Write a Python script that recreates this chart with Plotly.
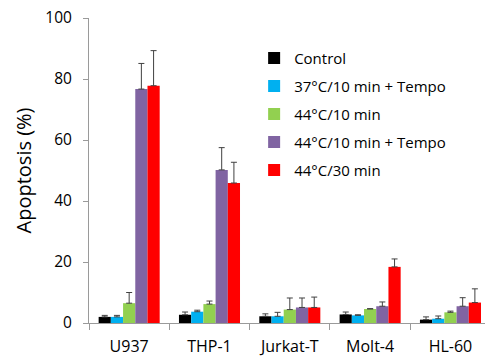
import plotly.graph_objects as go

categories = ["U937", "THP-1", "Jurkat-T", "Molt-4", "HL-60"]
series_names = ["Control", "37°C/10 min + Tempo", "44°C/10 min",
                "44°C/10 min + Tempo", "44°C/30 min"]
colors = ["#000000", "#00B0F0", "#92D050", "#8064A2", "#FF0000"]

control = [2.0, 2.7, 2.2, 2.8, 1.1]
control_err = [0.5, 0.9, 0.8, 0.8, 0.9]
tempo37 = [2.0, 3.7, 2.2, 2.5, 1.4]
tempo37_err = [0.5, 0.5, 1.3, 0.2, 0.9]
heat44_10 = [6.5, 6.2, 4.4, 4.6, 3.5]
heat44_10_err = [3.5, 1.0, 3.8, 0.1, 0.4]
heat44_10_tempo = [76.7, 50.2, 5.1, 5.5, 5.5]
heat44_10_tempo_err = [8.4, 7.3, 3.1, 1.4, 2.8]
heat44_30 = [77.8, 45.9, 5.1, 18.4, 6.7]
heat44_30_err = [11.5, 6.8, 3.4, 2.6, 4.5]

values = [control, tempo37, heat44_10, heat44_10_tempo, heat44_30]
errors = [control_err, tempo37_err, heat44_10_err, heat44_10_tempo_err, heat44_30_err]

font_family = "Open Sans"

fig = go.Figure()
for i, (name, col, vals, errs) in enumerate(zip(series_names, colors, values, errors)):
    fig.add_trace(go.Bar(
        x=categories, y=vals, name=name,
        marker=dict(color=col, line=dict(width=0)),
        legendgroup=f"g{i}",
        error_y=dict(type="data", symmetric=False, array=errs,
                     arrayminus=[0] * len(errs),
                     color="#404040", thickness=1, width=3),
    ))

fig.update_layout(
    width=485, height=357,
    margin=dict(l=89, r=0, t=18, b=34, pad=0),
    paper_bgcolor="white", plot_bgcolor="white",
    barmode="group", bargap=0.24, bargroupgap=0,
    font=dict(family=font_family, color="#000000"),
    showlegend=True,
    legend=dict(
        x=0.417, y=0.922, xanchor="left", yanchor="top",
        font=dict(size=15, family=font_family),
        bgcolor="rgba(0,0,0,0)", tracegroupgap=5.5,
        itemsizing="constant",
    ),
    xaxis=dict(
        range=[-0.5, 4.43], showline=True, linecolor="#9A9A9A", linewidth=1,
        ticks="outside", tickson="boundaries", ticklen=6, tickcolor="#9A9A9A",
        tickfont=dict(size=16), ticklabelstandoff=9,
        showgrid=False, zeroline=False,
    ),
    yaxis=dict(
        range=[0, 100], tickvals=[0, 20, 40, 60, 80, 100],
        showline=True, linecolor="#9A9A9A", linewidth=1,
        ticks="outside", ticklen=5, tickcolor="#9A9A9A",
        tickfont=dict(size=15.5), ticklabelstandoff=8,
        showgrid=False, zeroline=False,
        title=dict(text="Apoptosis (%)", font=dict(size=20), standoff=8),
    ),
)

fig.write_html("out.html")
